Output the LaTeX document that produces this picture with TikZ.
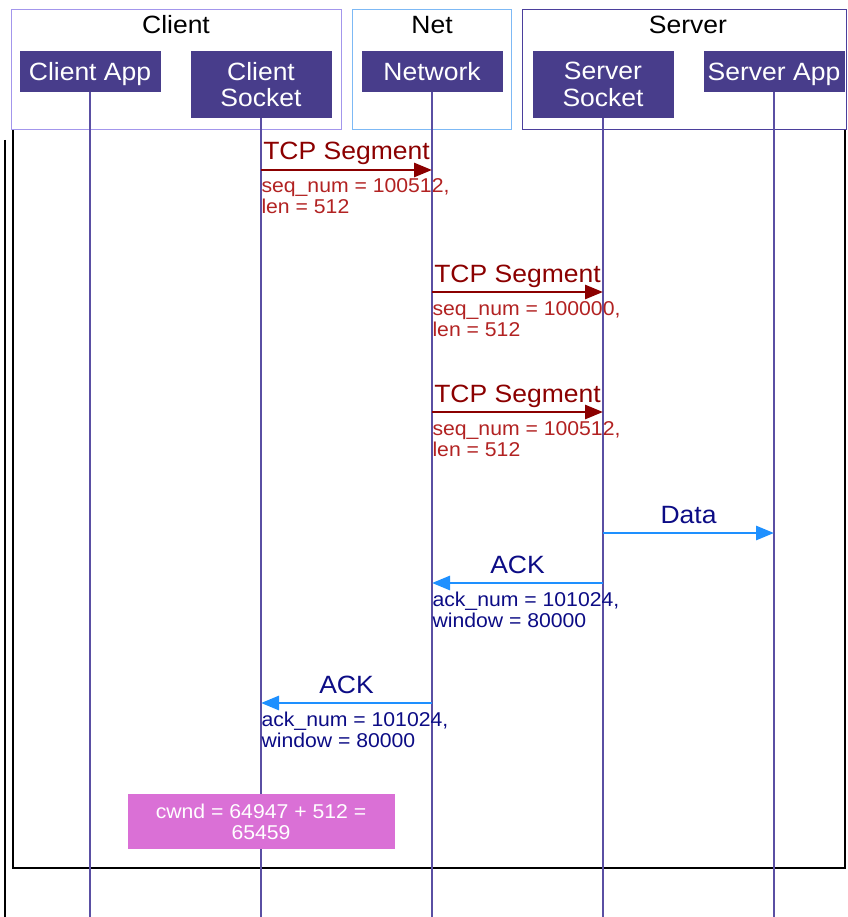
\documentclass[tikz,border=0pt]{standalone}
\usepackage{fontspec}
\setmainfont{Liberation Sans}[FakeStretch=1.06]
\usetikzlibrary{arrows.meta}
\usetikzlibrary{positioning}

\definecolor{actorfill}{HTML}{483D8B}
\definecolor{lifecolor}{HTML}{5A4FA3}
\definecolor{clientline}{HTML}{A396EC}
\definecolor{netline}{HTML}{7DB9F5}
\definecolor{serverline}{HTML}{4B3F9C}
\definecolor{tcpred}{HTML}{8B0000}
\definecolor{tcptext}{HTML}{B22222}
\definecolor{ackblue}{HTML}{1E90FF}
\definecolor{acktext}{HTML}{0C0C85}
\definecolor{notefill}{HTML}{DA70D6}

\newcommand{\bigtxt}{\fontsize{25}{26.5}\selectfont}
\newcommand{\smalltxt}{\fontsize{20}{21}\selectfont}

\begin{document}
\begin{tikzpicture}[x=1pt,y=-1pt,semithick]
		\tikzstyle{group}=[draw,line width=1.2pt,anchor=north west,minimum height=120pt,inner sep=0pt]
		\tikzstyle{grouptitle}=[anchor=base,font=\bigtxt,inner sep=0pt]
		\tikzstyle{actor}=[fill=actorfill,text=white,font=\bigtxt,minimum width=141pt,inner sep=0pt,outer sep=0pt]
		\tikzstyle{oneline}=[actor,minimum height=41pt,text depth=0pt]
		\tikzstyle{twoline}=[actor,minimum height=67pt,align=center]
		\tikzstyle{lifeline}=[draw=lifecolor,line width=1.8pt]
		\tikzstyle{tcp}=[-{Triangle[length=18pt,width=14pt]},color=tcpred,line width=2.8pt]
		\tikzstyle{ack}=[-{Triangle[length=18pt,width=14pt]},color=ackblue,line width=2.8pt]
		\tikzstyle{msgtop}=[anchor=base,yshift=10pt,font=\bigtxt,inner sep=0pt]
		\tikzstyle{msgbottom}=[anchor=base west,yshift=-44pt,font=\smalltxt,align=left,inner sep=0.5pt,outer sep=0pt]
		\tikzstyle{note}=[fill=notefill,text=white,font=\smalltxt,align=center,minimum width=267pt,minimum height=55pt]
		
		\useasboundingbox (0,0) rectangle (847,917);
		\coordinate (bottom) at (0,917);
		
		% frame
		\draw[line width=2.2pt] (13,130) -- (13,868) -- (845,868) -- (845,130);
		\draw[line width=2.2pt] (5,140) -- (5,917);
		
		\node[group,draw=clientline,minimum width=330pt] (ClientBox) at (11,9) {};
		\node[group,draw=netline,minimum width=159pt]    (NetBox)    at (352,9) {};
		\node[group,draw=serverline,minimum width=324pt] (ServerBox) at (522,9) {};
		\node[grouptitle] (ClientTitle) at (176,34) {Client};
		\node[grouptitle] (NetTitle)    at (432,34) {Net};
		\node[grouptitle] (ServerTitle) at (688,34) {Server};
		
		\node[oneline,anchor=north west] (ClientApp) at (19.5,51) {Client App};
		\node[twoline,right=30pt of ClientApp.north east,anchor=north west]    (ClientSocket) {Client\\Socket};
		\node[oneline,right=30pt of ClientSocket.north east,anchor=north west] (Network)      {Network};
		\node[twoline,right=30pt of Network.north east,anchor=north west]      (ServerSocket) {Server\\Socket};
		\node[oneline,right=30pt of ServerSocket.north east,anchor=north west] (ServerApp)    {Server App};
		
		\foreach \p in {ClientApp,ClientSocket,Network,ServerSocket,ServerApp}
			\draw[lifeline] (\p) -- (\p |- bottom);
		
		% messages
		\path[tcp] (ClientSocket |- 0,170) edge node[msgtop] {TCP Segment}
		node[msgbottom,pos=0,text=tcptext] {seq\_num = 100512,\\len = 512}   (Network |- 0,170);
		\path[tcp] (Network |- 0,292) edge node[msgtop] {TCP Segment}
		node[msgbottom,pos=0,text=tcptext] {seq\_num = 100000,\\len = 512}   (ServerSocket |- 0,292);
		\path[tcp] (Network |- 0,412) edge node[msgtop] {TCP Segment}
		node[msgbottom,pos=0,text=tcptext] {seq\_num = 100512,\\len = 512}   (ServerSocket |- 0,412);
		\path[ack] (ServerSocket |- 0,533) edge node[msgtop,text=acktext] {Data}   (ServerApp |- 0,533);
		\path[ack] (ServerSocket |- 0,583) edge node[msgtop,text=acktext] {ACK}
		node[msgbottom,pos=1,text=acktext] {ack\_num = 101024,\\window = 80000}   (Network |- 0,583);
		\path[ack] (Network |- 0,703) edge node[msgtop,text=acktext] {ACK}
		node[msgbottom,pos=1,text=acktext] {ack\_num = 101024,\\window = 80000}   (ClientSocket |- 0,703);
		
		\node[note] (Cwnd) at (ClientSocket |- 0,821.5) {cwnd = 64947 + 512 =\\65459};
\end{tikzpicture}
\end{document}
